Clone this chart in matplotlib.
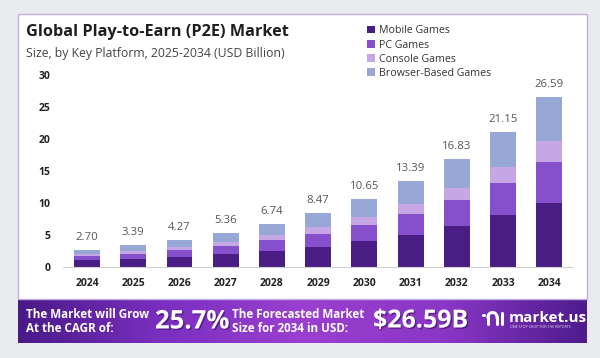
import numpy as np
import matplotlib
matplotlib.use("Agg")
import matplotlib.pyplot as plt
from matplotlib.patches import Rectangle
from matplotlib.colors import LinearSegmentedColormap
import matplotlib.patheffects as pe

plt.rcParams['font.family'] = ['Open Sans', 'DejaVu Sans']

# data (USD Billion)
years = ['2024', '2025', '2026', '2027', '2028', '2029', '2030', '2031', '2032', '2033', '2034']
mobile = [1.02, 1.28, 1.60, 2.03, 2.55, 3.20, 4.00, 5.05, 6.40, 8.10, 10.05]
pc = [0.64, 0.80, 1.00, 1.27, 1.60, 2.00, 2.55, 3.20, 4.00, 5.00, 6.40]
console = [0.32, 0.40, 0.50, 0.64, 0.80, 1.00, 1.25, 1.60, 2.00, 2.50, 3.30]
browser = [0.72, 0.91, 1.17, 1.42, 1.79, 2.27, 2.85, 3.54, 4.43, 5.55, 6.84]
totals = [2.70, 3.39, 4.27, 5.36, 6.74, 8.47, 10.65, 13.39, 16.83, 21.15, 26.59]
series = ['Mobile Games', 'PC Games', 'Console Games', 'Browser-Based Games']
colors = ['#4a1d85', '#8650cc', '#c7a6e6', '#98a8d6']

W, H = 600, 358
fig = plt.figure(figsize=(6, 3.58), dpi=100)
fig.patch.set_facecolor('#e9ecef')

def fx(px):
    return px / W

def fy(py):
    return 1 - py / H

# white card
fig.patches.append(Rectangle((fx(18), fy(299)), fx(569), 285 / H, transform=fig.transFigure,
                             facecolor='white', edgecolor='#c3aee0', lw=1.0, zorder=0))

# bottom banner with gradient
bax = fig.add_axes([fx(18), fy(343), fx(569), 44 / H])
cmap = LinearSegmentedColormap.from_list('ban', ['#4a1a88', '#7a2fbf', '#9b3fd0', '#8a36c6', '#4e1c8c'])
bax.imshow(np.linspace(0, 1, 256).reshape(1, -1), aspect='auto', cmap=cmap, extent=[0, 1, 0, 1])
bax.set_axis_off()

# main chart
ax = fig.add_axes([fx(63), fy(267), fx(509), 192 / H])
ax.set_zorder(3)
x = np.arange(len(years))
bottom = np.zeros(len(years))
bars = []
for vals, c in zip([mobile, pc, console, browser], colors):
    b = ax.bar(x, vals, width=0.56, bottom=bottom, color=c, zorder=2)
    bars.append(b)
    bottom += np.array(vals)

for xi, t in zip(x, totals):
    ax.annotate(f'{t:.2f}', (xi, t), xytext=(0, 5), textcoords='offset points',
                ha='center', va='bottom', fontsize=8.2, color='#555555')

ax.set_xlim(-0.52, 10.49)
ax.set_ylim(0, 30)
ax.set_yticks([0, 5, 10, 15, 20, 25, 30])
ax.set_xticks(x)
ax.set_xticklabels(years)
ax.tick_params(axis='both', length=0, labelsize=7.5, colors='#222222')
ax.tick_params(axis='y', pad=9)
ax.tick_params(axis='x', pad=8)
for lab in ax.get_xticklabels() + ax.get_yticklabels():
    lab.set_fontweight('bold')
for s in ['top', 'right', 'left']:
    ax.spines[s].set_visible(False)
ax.spines['bottom'].set_color('#d0d0d0')
ax.spines['bottom'].set_linewidth(0.8)
ax.set_facecolor('none')

# titles
fig.text(fx(26), fy(31.5), 'Global Play-to-Earn (P2E) Market', fontsize=11.7, fontweight='bold',
         color='#1e1e1e', va='center', ha='left')
fig.text(fx(26), fy(53), 'Size, by Key Platform, 2025-2034 (USD Billion)', fontsize=8.8,
         color='#444444', va='center', ha='left')

# legend
fig.legend([b[0] for b in bars], series, loc='upper left', bbox_to_anchor=(fx(362), fy(20)),
           frameon=False, fontsize=7.7, handlelength=0.7, handleheight=0.7,
           handletextpad=0.4, labelspacing=0.3, labelcolor='#333333', borderpad=0)

# banner text
shadow = [pe.withSimplePatchShadow(offset=(1, -1), shadow_rgbFace='#2a0a50', alpha=0.5)]
fig.text(fx(26), fy(321), 'The Market will Grow\nAt the CAGR of:', fontsize=8.4, fontweight='bold',
         color='white', va='center', ha='left', linespacing=1.1)
fig.text(fx(155), fy(321), '25.7%', fontsize=18.5, fontweight='bold', color='white',
         va='center', ha='left', path_effects=shadow)
fig.text(fx(232), fy(321), 'The Forecasted Market\nSize for 2034 in USD:', fontsize=8.4, fontweight='bold',
         color='white', va='center', ha='left', linespacing=1.1)
fig.text(fx(373), fy(321), '$26.59B', fontsize=18, fontweight='bold', color='white',
         va='center', ha='left', path_effects=shadow)

# logo
fig.add_artist(plt.Line2D([fx(483), fx(484)], [fy(315), fy(315)], transform=fig.transFigure,
                          color='white', lw=2.2, solid_capstyle='round'))
fig.add_artist(plt.Line2D([fx(488), fx(488)], [fy(324), fy(317)], transform=fig.transFigure,
                          color='white', lw=2.2, solid_capstyle='round'))
t = np.linspace(np.pi, 0, 20)
fig.add_artist(plt.Line2D(fx(492.5) + fx(4.5) * np.cos(t), fy(317) + 4.5 / H * np.sin(t),
                          transform=fig.transFigure, color='white', lw=2.2))
fig.add_artist(plt.Line2D([fx(497), fx(497)], [fy(317), fy(324)], transform=fig.transFigure,
                          color='white', lw=2.2, solid_capstyle='round'))
fig.add_artist(plt.Line2D([fx(502), fx(502)], [fy(313), fy(324)], transform=fig.transFigure,
                          color='white', lw=2.2, solid_capstyle='round'))
fig.text(fx(509), fy(318), 'market.us', fontsize=11, fontweight='bold', color='white',
         va='center', ha='left')
fig.text(fx(510), fy(327), 'ONE STOP SHOP FOR THE REPORTS', fontsize=2.6, color='#e8dcf5',
         va='center', ha='left')

fig.savefig('out.png', dpi=100, facecolor=fig.get_facecolor())
